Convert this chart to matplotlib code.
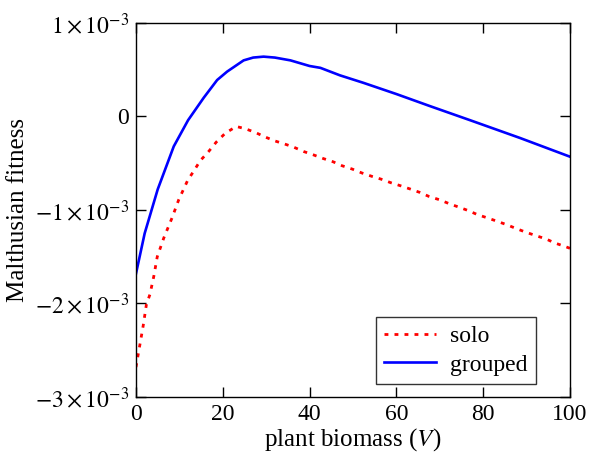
import matplotlib
matplotlib.use("Agg")
import matplotlib.pyplot as plt
import numpy as np

# data (fitness in units of 1e-3)
solo_v = [0, 0.9, 1.65, 2.4, 3.2, 4.1, 4.9, 6.4, 8.3, 9.85, 11.9, 13.5, 14.8,
          16.75, 18.5, 20.6, 23.1, 25.2, 27.5, 29.8, 31.9, 34.1, 36.3, 38.6,
          40.8, 43.1, 45.4, 47.5, 49.8, 52.1, 54.4, 56.4, 58.7, 60.9, 63.2,
          65.4, 67.5, 69.9, 72.2, 74.3, 76.6, 78.7, 81.0, 83.3, 85.4, 87.7,
          89.9, 92.2, 94.5, 96.5, 98.8, 100]
solo = [-2.68, -2.44, -2.24, -2.01, -1.905, -1.71, -1.50, -1.30, -1.085, -0.89,
        -0.684, -0.57, -0.473, -0.374, -0.274, -0.178, -0.107, -0.131, -0.171,
        -0.22, -0.26, -0.292, -0.327, -0.374, -0.409, -0.449, -0.484, -0.527,
        -0.562, -0.605, -0.641, -0.669, -0.708, -0.74, -0.776, -0.812, -0.855,
        -0.89, -0.933, -0.968, -1.007, -1.05, -1.085, -1.122, -1.157, -1.20,
        -1.239, -1.275, -1.31, -1.353, -1.389, -1.41]

grouped_v = [0, 2, 5, 8.7, 12, 15.6, 18.7, 21, 24.8, 27, 29.4, 32, 35.6, 40,
             42.5, 47, 52.4, 60, 67.8, 77, 88.5, 100]
grouped = [-1.68, -1.25, -0.78, -0.32, -0.04, 0.20, 0.39, 0.48, 0.60, 0.63,
           0.64, 0.63, 0.60, 0.54, 0.52, 0.44, 0.36, 0.24, 0.11, -0.04, -0.23,
           -0.43]

yticks = [-3e-3, -2e-3, -1e-3, 0, 1e-3]
ytick_labels = [r"$-3\times10^{-3}$", r"$-2\times10^{-3}$", r"$-1\times10^{-3}$",
                "0", r"$1\times10^{-3}$"]

plt.rcParams["font.family"] = ["Liberation Serif", "DejaVu Serif"]
plt.rcParams["mathtext.fontset"] = "stix"

fig = plt.figure(figsize=(5.9, 4.55), dpi=100)
ax = fig.add_axes([0.2305, 0.1275, 0.7355, 0.822])

ax.plot(solo_v, np.array(solo) * 1e-3, color="red", lw=2.0,
        linestyle=(0, (1.4, 2.2)), label="solo")
ax.plot(grouped_v, np.array(grouped) * 1e-3, color="blue", lw=1.9,
        label="grouped")

ax.set_xlim(0, 100)
ax.set_ylim(-3e-3, 1e-3)
ax.set_xticks([0, 20, 40, 60, 80, 100])
ax.set_yticks(yticks)
ax.set_yticklabels(ytick_labels)
ax.tick_params(direction="in", length=7, width=1, top=True, right=True,
               labelsize=17, pad=5)
for s in ax.spines.values():
    s.set_linewidth(1)

ax.set_xlabel("plant biomass ($V$)", fontsize=18, labelpad=1)
ax.set_ylabel("Malthusian fitness", fontsize=18, labelpad=4)

leg = ax.legend(loc="lower right", bbox_to_anchor=(0.921, 0.035),
                fancybox=False, edgecolor="black", fontsize=17,
                handlelength=2.2, borderpad=0.35, labelspacing=0.3,
                handletextpad=0.6, borderaxespad=0)
leg.get_frame().set_linewidth(1)

fig.savefig("out.png", dpi=100)
